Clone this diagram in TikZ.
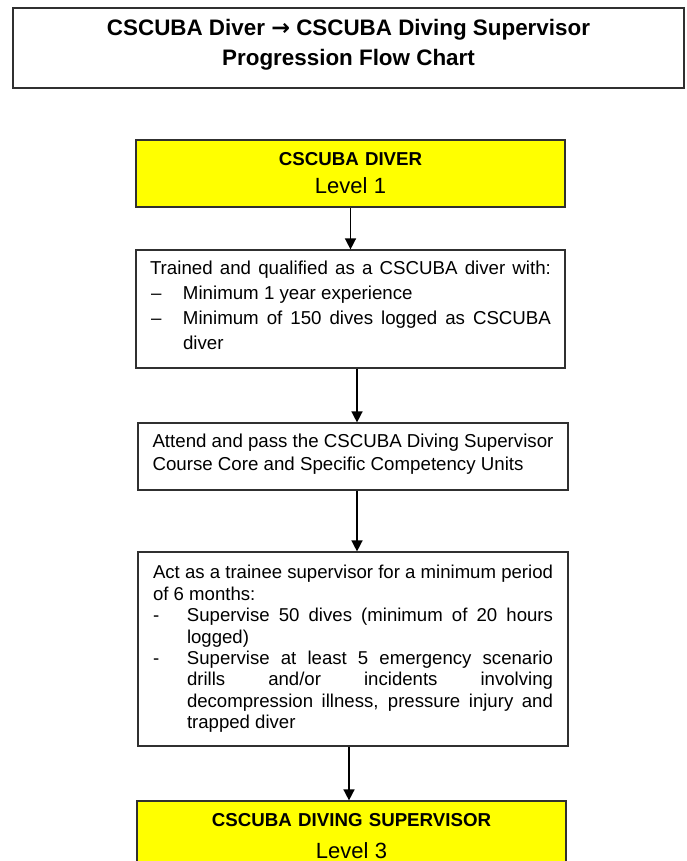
\documentclass[tikz,border=0pt]{standalone}
\usepackage{fontspec}
\setmainfont{Liberation Sans}
\newfontfamily\arrowfont{DejaVu Sans}
\usetikzlibrary{arrows.meta}
\definecolor{lvlyellow}{HTML}{FFFF00}
\definecolor{ink}{HTML}{303030}
\tolerance=10000
\hbadness=10000
\hyphenpenalty=10000
% dash item with hanging indent
\newcommand{\dashitem}[3]{\par\hangindent=#1\hangafter=0\noindent\llap{\makebox[#1][l]{#2}}#3}
% invisible depth to lift a text block
\newcommand{\lift}[1]{\rule[-#1]{0pt}{#1}}
\tikzset{
  titlebox/.style = {rectangle, draw=ink, line width=1.4pt, fill=white,
                     minimum width=671pt, minimum height=80pt, inner sep=0pt,
                     align=center, font=\bfseries\fontsize{22.4}{30}\selectfont},
  level/.style    = {rectangle, draw=ink, line width=1.2pt, fill=lvlyellow,
                     minimum width=429pt, minimum height=67pt, inner sep=0pt,
                     text width=420pt, align=center, font=\fontsize{18.7}{28}\selectfont},
  req/.style      = {rectangle, draw=ink, line width=1.2pt, fill=white,
                     minimum width=430pt, inner sep=0pt, text width=401pt,
                     align=justify},
  flow/.style     = {-{Triangle[length=11pt, width=11pt]}, line width=1.5pt, draw=black},
}
\begin{document}
\begin{tikzpicture}[x=1pt, y=-1pt]
\useasboundingbox (0,0) rectangle (686,861);
\clip (0,0) rectangle (686,861);

% ---- Title ----
\node[titlebox] (title) at (348.5,48)
  {CSCUBA Diver {\arrowfont →} CSCUBA Diving Supervisor\\ Progression Flow Chart\lift{11pt}};

% ---- Level 1 ----
\node[level] (diver) at (350.5,173.5)
  {\textbf{CSCUBA DIVER}\\ {\fontsize{22}{28}\selectfont Level 1}};

% ---- Requirements ----
\node[req, minimum width=429pt, minimum height=118pt, font=\fontsize{18.7}{25}\selectfont]
  (trained) at (350.5,309)
  {\noindent\makebox[\linewidth][s]{Trained and qualified as a CSCUBA diver with:}
   \dashitem{33pt}{\hspace{1pt}–}{Minimum 1 year experience}
   \dashitem{33pt}{\hspace{1pt}–}{Minimum of 150 dives logged as CSCUBA\linebreak diver\lift{8pt}}\par};

\node[req, minimum height=67pt, font=\fontsize{18.7}{23}\selectfont]
  (course) at (353,456.5)
  {\noindent Attend and pass the CSCUBA Diving Supervisor\linebreak
   Course Core and Specific Competency Units\lift{8pt}};

\node[req, minimum height=194pt, text width=400pt, font=\fontsize{18.6}{21.4}\selectfont]
  (trainee) at (353,649)
  {\noindent Act as a trainee supervisor for a minimum period\linebreak of 6 months:
   \dashitem{34pt}{-}{Supervise 50 dives (minimum of 20 hours\linebreak logged)}
   \dashitem{34pt}{-}{Supervise at least 5 emergency scenario\linebreak drills and/or incidents involving\linebreak
     decompression illness, pressure injury and\linebreak trapped diver}\par};

% ---- Level 3 ----
\node[level, minimum height=70pt, font=\fontsize{18.7}{32}\selectfont] (supervisor) at (351.5,836)
  {\textbf{CSCUBA DIVING SUPERVISOR}\\ {\fontsize{22}{32}\selectfont Level 3}};

% ===== Spine arrows =====
\draw[flow] (diver.south) -- (trained.north);
\draw[flow] ([xshift=6.5pt]trained.south) -- ([xshift=4pt]course.north);
\draw[flow] ([xshift=4pt]course.south) -- ([xshift=4pt]trainee.north);
\draw[flow] ([xshift=-4pt]trainee.south) -- ([xshift=-2.5pt]supervisor.north);

\end{tikzpicture}
\end{document}
